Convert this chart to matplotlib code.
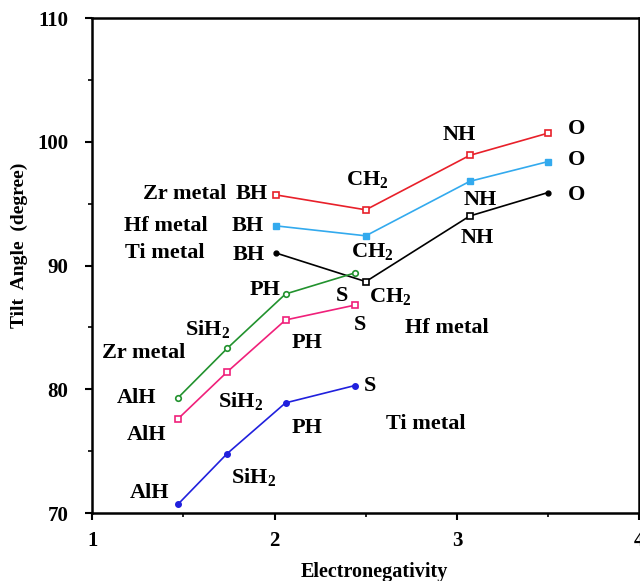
import numpy as np
import matplotlib
matplotlib.use("Agg")
import matplotlib.pyplot as plt

plt.rcParams['font.family'] = ['Liberation Serif', 'DejaVu Serif']
plt.rcParams['font.weight'] = 'bold'
plt.rcParams['mathtext.fontset'] = 'custom'
plt.rcParams['mathtext.rm'] = 'Liberation Serif:bold'

# electronegativity of the ligand atom
en_upper = [2.01, 2.50, 3.07, 3.50]   # BH, CH2, NH, O
en_lower = [1.47, 1.74, 2.06, 2.44]   # AlH, SiH2, PH, S

# tilt angles (degree)
zr_upper = [95.7, 94.5, 98.9, 100.7]
hf_upper = [93.2, 92.4, 96.8, 98.4]
ti_upper = [91.0, 88.7, 94.0, 95.9]
zr_lower = [79.3, 83.3, 87.7, 89.4]
hf_lower = [77.6, 81.4, 85.6, 86.8]
ti_lower = [70.7, 74.8, 78.9, 80.3]

fig = plt.figure(figsize=(6.4, 5.81), dpi=100)
ax = fig.add_axes([0.144, 0.117, 0.855, 0.852])

# upper group
ax.plot(en_upper, zr_upper, '-s', color='#e8202a', lw=1.2, ms=4, mfc='white', mew=1.2)
ax.plot(en_upper, hf_upper, '-s', color='#33aaee', lw=1.2, ms=4)
ax.plot(en_upper, ti_upper, '-', color='black', lw=1.2)
ax.plot([en_upper[0], en_upper[3]], [ti_upper[0], ti_upper[3]], 'o', color='black', ms=3.5, ls='none')
ax.plot(en_upper[1:3], ti_upper[1:3], 's', color='black', ms=4, mfc='white', mew=1.2, ls='none')

# lower group
ax.plot(en_lower, zr_lower, '-o', color='#22922e', lw=1.2, ms=4, mfc='white', mew=1.2)
ax.plot(en_lower, hf_lower, '-s', color='#f0207a', lw=1.2, ms=4, mfc='white', mew=1.2)
ax.plot(en_lower, ti_lower, '-o', color='#2020dd', lw=1.2, ms=4)

fs = 16
labels = [
    (1.505, 95.78, "Zr metal"), (1.872, 95.78, "BH"),
    (1.406, 93.19, "Hf metal"), (1.850, 93.19, "BH"),
    (1.400, 91.01, "Ti metal"), (1.856, 90.85, "BH"),
    (2.508, 96.91, "CH$_2$"), (2.536, 91.09, "CH$_2$"), (2.635, 87.45, "CH$_2$"),
    (3.013, 100.55, "NH"), (3.128, 95.29, "NH"), (3.112, 92.22, "NH"),
    (3.655, 101.03, "O"), (3.655, 98.53, "O"), (3.655, 95.70, "O"),
    (2.371, 87.54, "S"), (2.470, 85.19, "S"), (2.947, 84.95, "Hf metal"),
    (1.949, 88.02, "PH"), (1.631, 84.79, "SiH$_2$"), (1.280, 82.93, "Zr metal"),
    (1.241, 79.29, "AlH"), (1.296, 76.30, "AlH"), (1.812, 78.97, "SiH$_2$"),
    (2.179, 83.74, "PH"), (2.525, 80.26, "S"), (2.179, 76.87, "PH"),
    (1.883, 72.83, "SiH$_2$"), (1.313, 71.62, "AlH"), (2.827, 77.19, "Ti metal"),
]
for x, y, t in labels:
    ax.text(x, y, t, fontsize=fs, fontweight='bold', ha='center', va='center')

ax.set_xlim(1, 4)
ax.set_ylim(70, 110)
ax.set_xticks([1, 2, 3, 4])
ax.set_xticks([1.5, 2.5, 3.5], minor=True)
ax.set_yticks([70, 80, 90, 100, 110])
ax.set_yticks([75, 85, 95, 105], minor=True)
ax.tick_params(axis='both', which='major', labelsize=15, width=1.5, length=5, direction='out')
ax.tick_params(axis='both', which='minor', width=1.2, length=3, direction='out')
ax.tick_params(axis='x', which='major', pad=8)
ax.tick_params(axis='y', which='major', pad=12)
for lab in ax.get_xticklabels() + ax.get_yticklabels():
    lab.set_fontweight('bold')
for s in ax.spines.values():
    s.set_linewidth(1.8)

ax.set_xlabel("Electronegativity", fontsize=14.5, fontweight='bold')
ax.xaxis.set_label_coords(0.516, -0.098)
ax.set_ylabel("Tilt  Angle  (degree)", fontsize=14, fontweight='bold')
ax.yaxis.set_label_coords(-0.118, 0.54)

fig.savefig("out.png", dpi=100)
